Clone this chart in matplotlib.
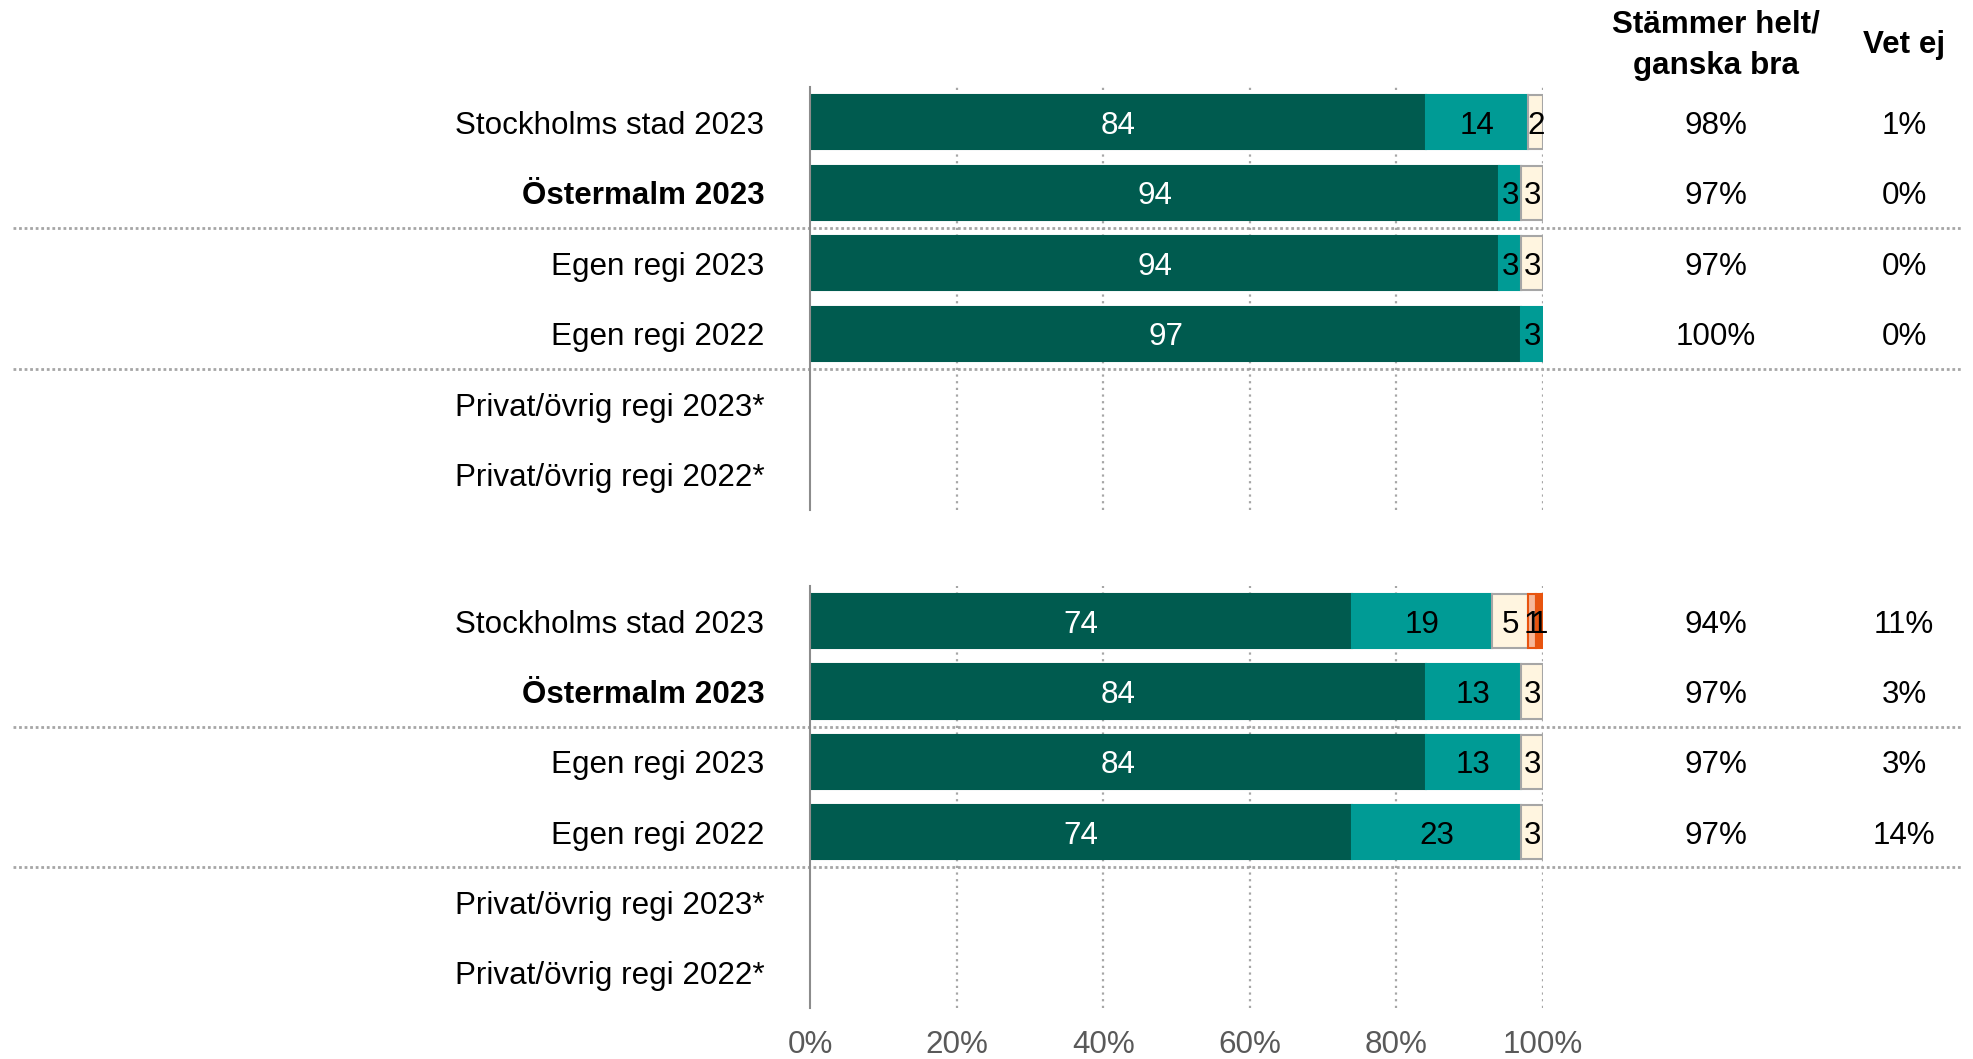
import matplotlib.pyplot as plt
from matplotlib.transforms import blended_transform_factory

plt.rcParams['font.family'] = ['Liberation Sans', 'DejaVu Sans']

# Rows per panel (top to bottom)
rows = ["Stockholms stad 2023", "Östermalm 2023", "Egen regi 2023",
        "Egen regi 2022", "Privat/övrig regi 2023*", "Privat/övrig regi 2022*"]
bold_rows = ["Östermalm 2023"]

# Segment values per panel: helt, ganska bra, ganska dåligt, inte särskilt, inte alls
top_helt = [84, 94, 94, 97, None, None]
top_ganska = [14, 3, 3, 3, None, None]
top_daligt = [2, 3, 3, 0, None, None]
top_inte = [0, 0, 0, 0, None, None]
top_intealls = [0, 0, 0, 0, None, None]
top_bra = ["98%", "97%", "97%", "100%", "", ""]
top_vetej = ["1%", "0%", "0%", "0%", "", ""]

bot_helt = [74, 84, 84, 74, None, None]
bot_ganska = [19, 13, 13, 23, None, None]
bot_daligt = [5, 3, 3, 3, None, None]
bot_inte = [1, 0, 0, 0, None, None]
bot_intealls = [1, 0, 0, 0, None, None]
bot_bra = ["94%", "97%", "97%", "97%", "", ""]
bot_vetej = ["11%", "3%", "3%", "14%", "", ""]

ticks = [0, 20, 40, 60, 80, 100]
tick_labels = ["0%", "20%", "40%", "60%", "80%", "100%"]

seg_colors = ["#005B4F", "#009B95", "#FFF5E0", "#F6B89A", "#E8540F"]
seg_edges = ["#005B4F", "#009B95", "#A6A6A6", "#E8540F", "#E8540F"]
seg_text = ["white", "black", "black", "black", "black"]

FS = 22.6
W, H = 1974, 1059
fig = plt.figure(figsize=(W / 100, H / 100), dpi=100)

ax_top = fig.add_axes([810 / W, 1 - 510 / H, 733 / W, 423 / H])
ax_bot = fig.add_axes([810 / W, 1 - 1008 / H, 733 / W, 422 / H])

panels = [
    (ax_top, [top_helt, top_ganska, top_daligt, top_inte, top_intealls], top_bra, top_vetej),
    (ax_bot, [bot_helt, bot_ganska, bot_daligt, bot_inte, bot_intealls], bot_bra, bot_vetej),
]

for ax, series, bra, vetej in panels:
    ax.set_xlim(0, 100)
    ax.set_ylim(5.5, -0.5)
    for x in ticks[1:]:
        ax.axvline(x, color="#A6A6A6", lw=1.6, ls=(0, (1, 2)), zorder=0)

    for i in range(len(rows)):
        left = 0
        for k, vals in enumerate(series):
            v = vals[i]
            if not v:
                continue
            ax.barh(i, v, left=left, height=0.77, color=seg_colors[k],
                    edgecolor=seg_edges[k], linewidth=1.5, zorder=2)
            ax.text(left + v / 2, i, str(v), ha="center", va="center_baseline",
                    color=seg_text[k], fontsize=FS, zorder=3)
            left += v

    for s in ["top", "right", "bottom"]:
        ax.spines[s].set_visible(False)
    ax.spines["left"].set_color("#8C8C8C")
    ax.spines["left"].set_linewidth(1.5)

    ax.set_yticks(range(len(rows)))
    ax.set_yticklabels(rows, fontsize=FS, color="black")
    for lab in ax.get_yticklabels():
        if lab.get_text() in bold_rows:
            lab.set_fontweight("bold")
    ax.tick_params(axis="y", length=0, pad=33)

    ax.set_xticks(ticks)
    ax.tick_params(axis="x", length=0, pad=16, labelsize=FS, labelcolor="#595959")
    ax.set_xticklabels(tick_labels)

    tr = blended_transform_factory(fig.transFigure, ax.transData)
    for i in range(len(rows)):
        ax.text(1716 / W, i, bra[i], transform=tr, ha="center", va="center_baseline", fontsize=FS)
        ax.text(1904 / W, i, vetej[i], transform=tr, ha="center", va="center_baseline", fontsize=FS)

    # group separators
    for y in [1.5, 3.5]:
        ax.plot([13 / W, 1961 / W], [y, y], transform=tr, color="#A6A6A6",
                lw=2, ls=(0, (1, 1)), clip_on=False, zorder=1)

ax_top.tick_params(axis="x", labelbottom=False)

fig.text(1716 / W, 1 - 45 / H, "Stämmer helt/\nganska bra", ha="center", va="center",
         fontsize=FS, fontweight="bold", linespacing=1.5)
fig.text(1904 / W, 1 - 45 / H, "Vet ej", ha="center", va="center",
         fontsize=FS, fontweight="bold")

fig.savefig("out.png", dpi=100, facecolor="white")
